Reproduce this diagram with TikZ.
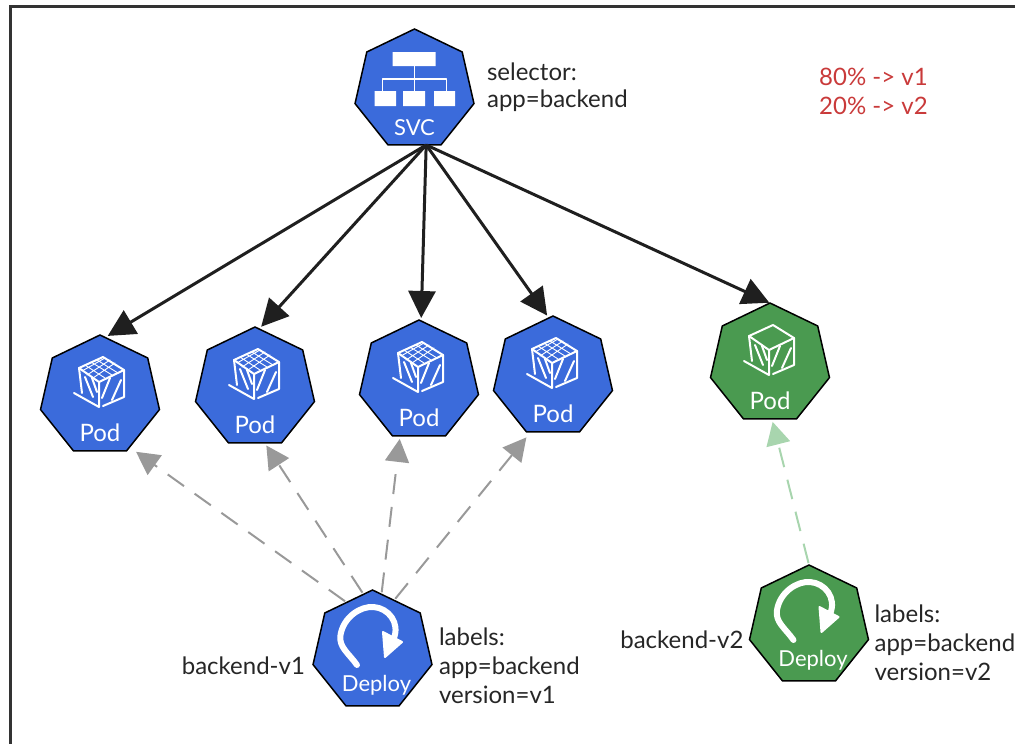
\documentclass[tikz,border=0pt]{standalone}
\usepackage{fontspec}
\setmainfont{Lato}
\usepackage{xcolor}
\usetikzlibrary{calc, positioning, arrows.meta, shapes.geometric}
\definecolor{podBlue}{HTML}{3B6BDB}
\definecolor{podGreen}{HTML}{4A9A50}
\definecolor{noteRed}{HTML}{C93A3A}
\definecolor{softGreen}{HTML}{A8D5AE}
\tikzset{
    hept/.style={regular polygon, regular polygon sides=7, draw=black, line width=1.5pt, minimum size=122pt, inner sep=0pt, outer sep=0pt},
    blueHept/.style={hept, fill=podBlue},
    greenHept/.style={hept, fill=podGreen},
    icon/.style={draw=white, line width=2pt, line cap=round, line join=round},
    iconText/.style={text=white, font=\fontsize{22}{24}\selectfont, inner sep=0pt},
    podText/.style={iconText, font=\fontsize{24}{26}\selectfont},
    note/.style={align=left, inner sep=0pt, font=\fontsize{24}{29}\selectfont, text=black!85},
    route/.style={-{Triangle[length=27pt,width=27pt]}, line width=3pt, draw=black!88, shorten >=3pt},
    owner/.style={-{Triangle[length=23pt,width=24pt]}, line width=2pt, dashed, dash pattern=on 20pt off 13pt, draw=black!40, shorten <=2pt, shorten >=3pt},
    ownerGreen/.style={owner, draw=softGreen},
    podcube/.pic={
        \draw[icon] (3,-39) -- (-21,-28) -- (-1,-14) -- (24,-26) -- cycle;
        \draw[icon] (-21,-28) -- (-18,-3) (-1,-14) -- (-1,11) -- (-26,-3) (24,-26) -- (24,1) -- (3,10);
        \draw[icon] (-15,-19) -- (-7,1) (-8,-18) -- (-3,-4) (2,2) -- (10,-18) (12,4) -- (21,-16);
    },
    podgrid/.pic={
        \draw[icon, line width=0.9pt] (-15,-31) -- (5,-18) (-9,-34) -- (12,-21) (-3,-36) -- (18,-23) (-13,-21) -- (10,-36) (-7,-18) -- (15,-33) (-18,-25) -- (5,-38);
    },
    svcicon/.pic={
        \fill[white] (-22,-38) rectangle (21,-24) (-40,1) rectangle (-18.5,16) (-11.5,1) rectangle (10.5,16) (19.5,1) rectangle (40.5,16);
        \draw[icon, line width=1.6pt] (0,-24) -- (0,1) (-32,1) -- (-32,-11) -- (32,-11) -- (32,1);
    },
    deployicon/.pic={
        \draw[icon, line width=6pt] (-15.5,14) .. controls (-24,2) and (-34,-4) .. (-32,-16) .. controls (-29,-34) and (-12,-45) .. (1,-44) .. controls (16,-43) and (28,-28) .. (21,-12);
        \fill[white, draw=white, line width=2pt, line join=round] (10.5,-19) -- (29.5,-9) -- (12.5,6) -- cycle;
    }
}
\begin{document}
\begin{tikzpicture}[x=1pt, y=-1pt]
    \useasboundingbox (0,0) rectangle (1015,744);

    % Frame
    \draw[line width=3pt, draw=black!80] (1015,6) -- (10,6) -- (10,744);

    % Service
    \node[blueHept] (SVC) at (414.5,90) {};
    \pic at (SVC.center) {svcicon};
    \node[iconText] (SVCText) at ($(SVC.center)+(0,38)$) {SVC};
    \node[note, right=16pt of SVC, yshift=3pt, font=\fontsize{24}{27}\selectfont] (Selector) {selector:\\app=backend};
    \node[note, text=noteRed, anchor=north west] (Split) at (819,68) {80\% -> v1\\20\% -> v2};

    % Pods
    \node[blueHept] (PodA) at (100,396) {};
    \node[blueHept] (PodB) at (255,388) {};
    \node[blueHept] (PodC) at (419,381) {};
    \node[blueHept] (PodD) at (553,377) {};
    \node[greenHept] (PodE) at (770,364) {};
    \foreach \pod in {PodA, PodB, PodC, PodD} {
        \pic at (\pod.center) {podcube};
        \pic at (\pod.center) {podgrid};
        \node[podText] (\pod Text) at ($(\pod.center)+(0,37)$) {Pod};
    }
    \pic at (PodE.center) {podcube};
    \node[podText] (PodEText) at ($(PodE.center)+(0,37)$) {Pod};

    % Deployments
    \node[blueHept] (DeployA) at (372.5,651) {};
    \pic at (DeployA.center) {deployicon};
    \node[iconText] (DeployAText) at ($(DeployA.center)+(4,34)$) {Deploy};
    \node[note, left=11pt of DeployA, yshift=-15pt] (NameA) {backend-v1};
    \node[note, right=10pt of DeployA, yshift=-15pt] (LabelsA) {labels:\\app=backend\\version=v1};

    \node[greenHept] (DeployB) at (809,626) {};
    \pic at (DeployB.center) {deployicon};
    \node[iconText] (DeployBText) at ($(DeployB.center)+(4,34)$) {Deploy};
    \node[note, left=9pt of DeployB, yshift=-14pt] (NameB) {backend-v2};
    \node[note, right=9pt of DeployB, yshift=-17pt] (LabelsB) {labels:\\app=backend\\version=v2};

    % Connections
    \draw[route] (SVC.-78) -- (PodA.85);
    \draw[route] (SVC.-78) -- (PodB.86);
    \draw[route] (SVC.-78) -- (PodC.88);
    \draw[route] (SVC.-78) -- (PodD.94);
    \draw[route] (SVC.-78) -- (PodE.88);
    \draw[owner, shorten >=8pt] (DeployA.118) -- (PodA.-60);
    \draw[owner] (DeployA.99) -- (PodB.-80);
    \draw[owner] (DeployA.81) -- (PodC.-109);
    \draw[owner, shorten >=7pt] (DeployA.67) -- (PodD.-112);
    \draw[ownerGreen] (DeployB.90) -- (PodE.-88);

\end{tikzpicture}
\end{document}
